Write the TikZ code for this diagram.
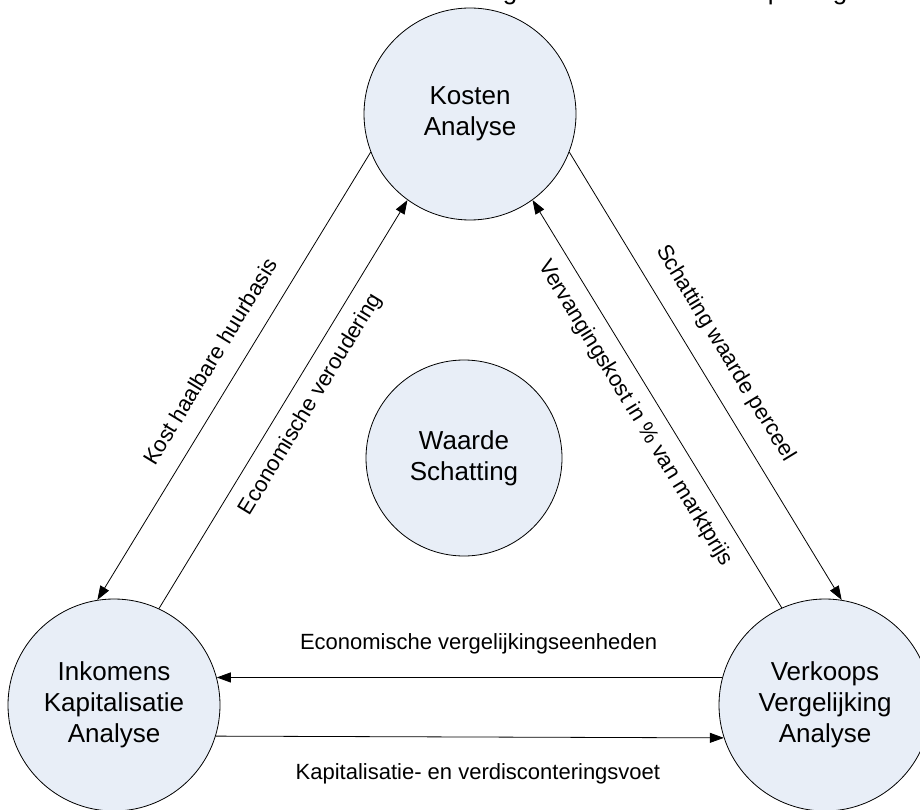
\documentclass[tikz,border=0pt]{standalone}
\usepackage{fontspec}
\setmainfont{Liberation Sans}
\usetikzlibrary{arrows.meta}
\definecolor{circfill}{RGB}{232,238,247}
\begin{document}
\begin{tikzpicture}[x=1pt,y=-1pt,
  circ/.style={circle, draw=black, line width=0.8pt, fill=circfill,
    minimum size=212pt, inner sep=0pt, align=center,
    font=\fontsize{26}{31}\selectfont},
  tipend/.style={line width=0.8pt, -{Triangle[length=14pt,width=10pt]}},
  tipstart/.style={line width=0.8pt, {Triangle[length=14pt,width=10pt]}-},
  lbl/.style={font=\fontsize{22}{26}\selectfont, inner sep=0pt,
    text height=16pt, text depth=4.6pt},
  frag/.style={font=\fontsize{26}{31}\selectfont, inner sep=0pt, anchor=base}
]
\useasboundingbox (0,0) rectangle (920,810);
\clip (0,0) rectangle (920,810);

% clipped title remnants
\node[frag] (f1) at (510,0) {g};
\node[frag] (f2) at (775,0) {p};
\node[frag] (f3) at (840,0) {g};

\node[circ] (kost) at (470,114) {Kosten\\Analyse};
\node[circ, minimum size=196pt] (waarde) at (464,458) {Waarde\\Schatting};
\node[circ] (ink) at (114,705) {Inkomens\\Kapitalisatie\\Analyse};
\node[circ] (verk) at (825,705) {Verkoops\\Vergelijking\\Analyse};

% Kosten -> Inkomens
\draw[tipstart] (ink.99) -- node[lbl, sloped, pos=0.5, above=15pt] {Kost haalbare huurbasis} (kost.201.5);
% Inkomens -> Kosten
\draw[tipend] (ink.65.5) -- node[lbl, sloped, pos=0.53, below=13pt] {Economische veroudering} (kost.234);
% Kosten -> Verkoops
\draw[tipend] (kost.-21.5) -- node[lbl, sloped, pos=0.483, above=18pt] {Schatting waarde perceel} (verk.81);
% Verkoops -> Kosten
\draw[tipstart] (kost.-54) -- node[lbl, sloped, pos=0.493, below=13pt] {Vervangingskost in \% van marktprijs} (verk.114.5);
% Verkoops -> Inkomens
\draw[tipstart] (ink.15) -- node[lbl, pos=0.518, above=23pt] {Economische vergelijkingseenheden} (verk.165);
% Inkomens -> Verkoops
\draw[tipend] (ink.-17.5) -- node[lbl, pos=0.516, below=26pt] {Kapitalisatie- en verdisconteringsvoet} (verk.-162.5);
\end{tikzpicture}
\end{document}
